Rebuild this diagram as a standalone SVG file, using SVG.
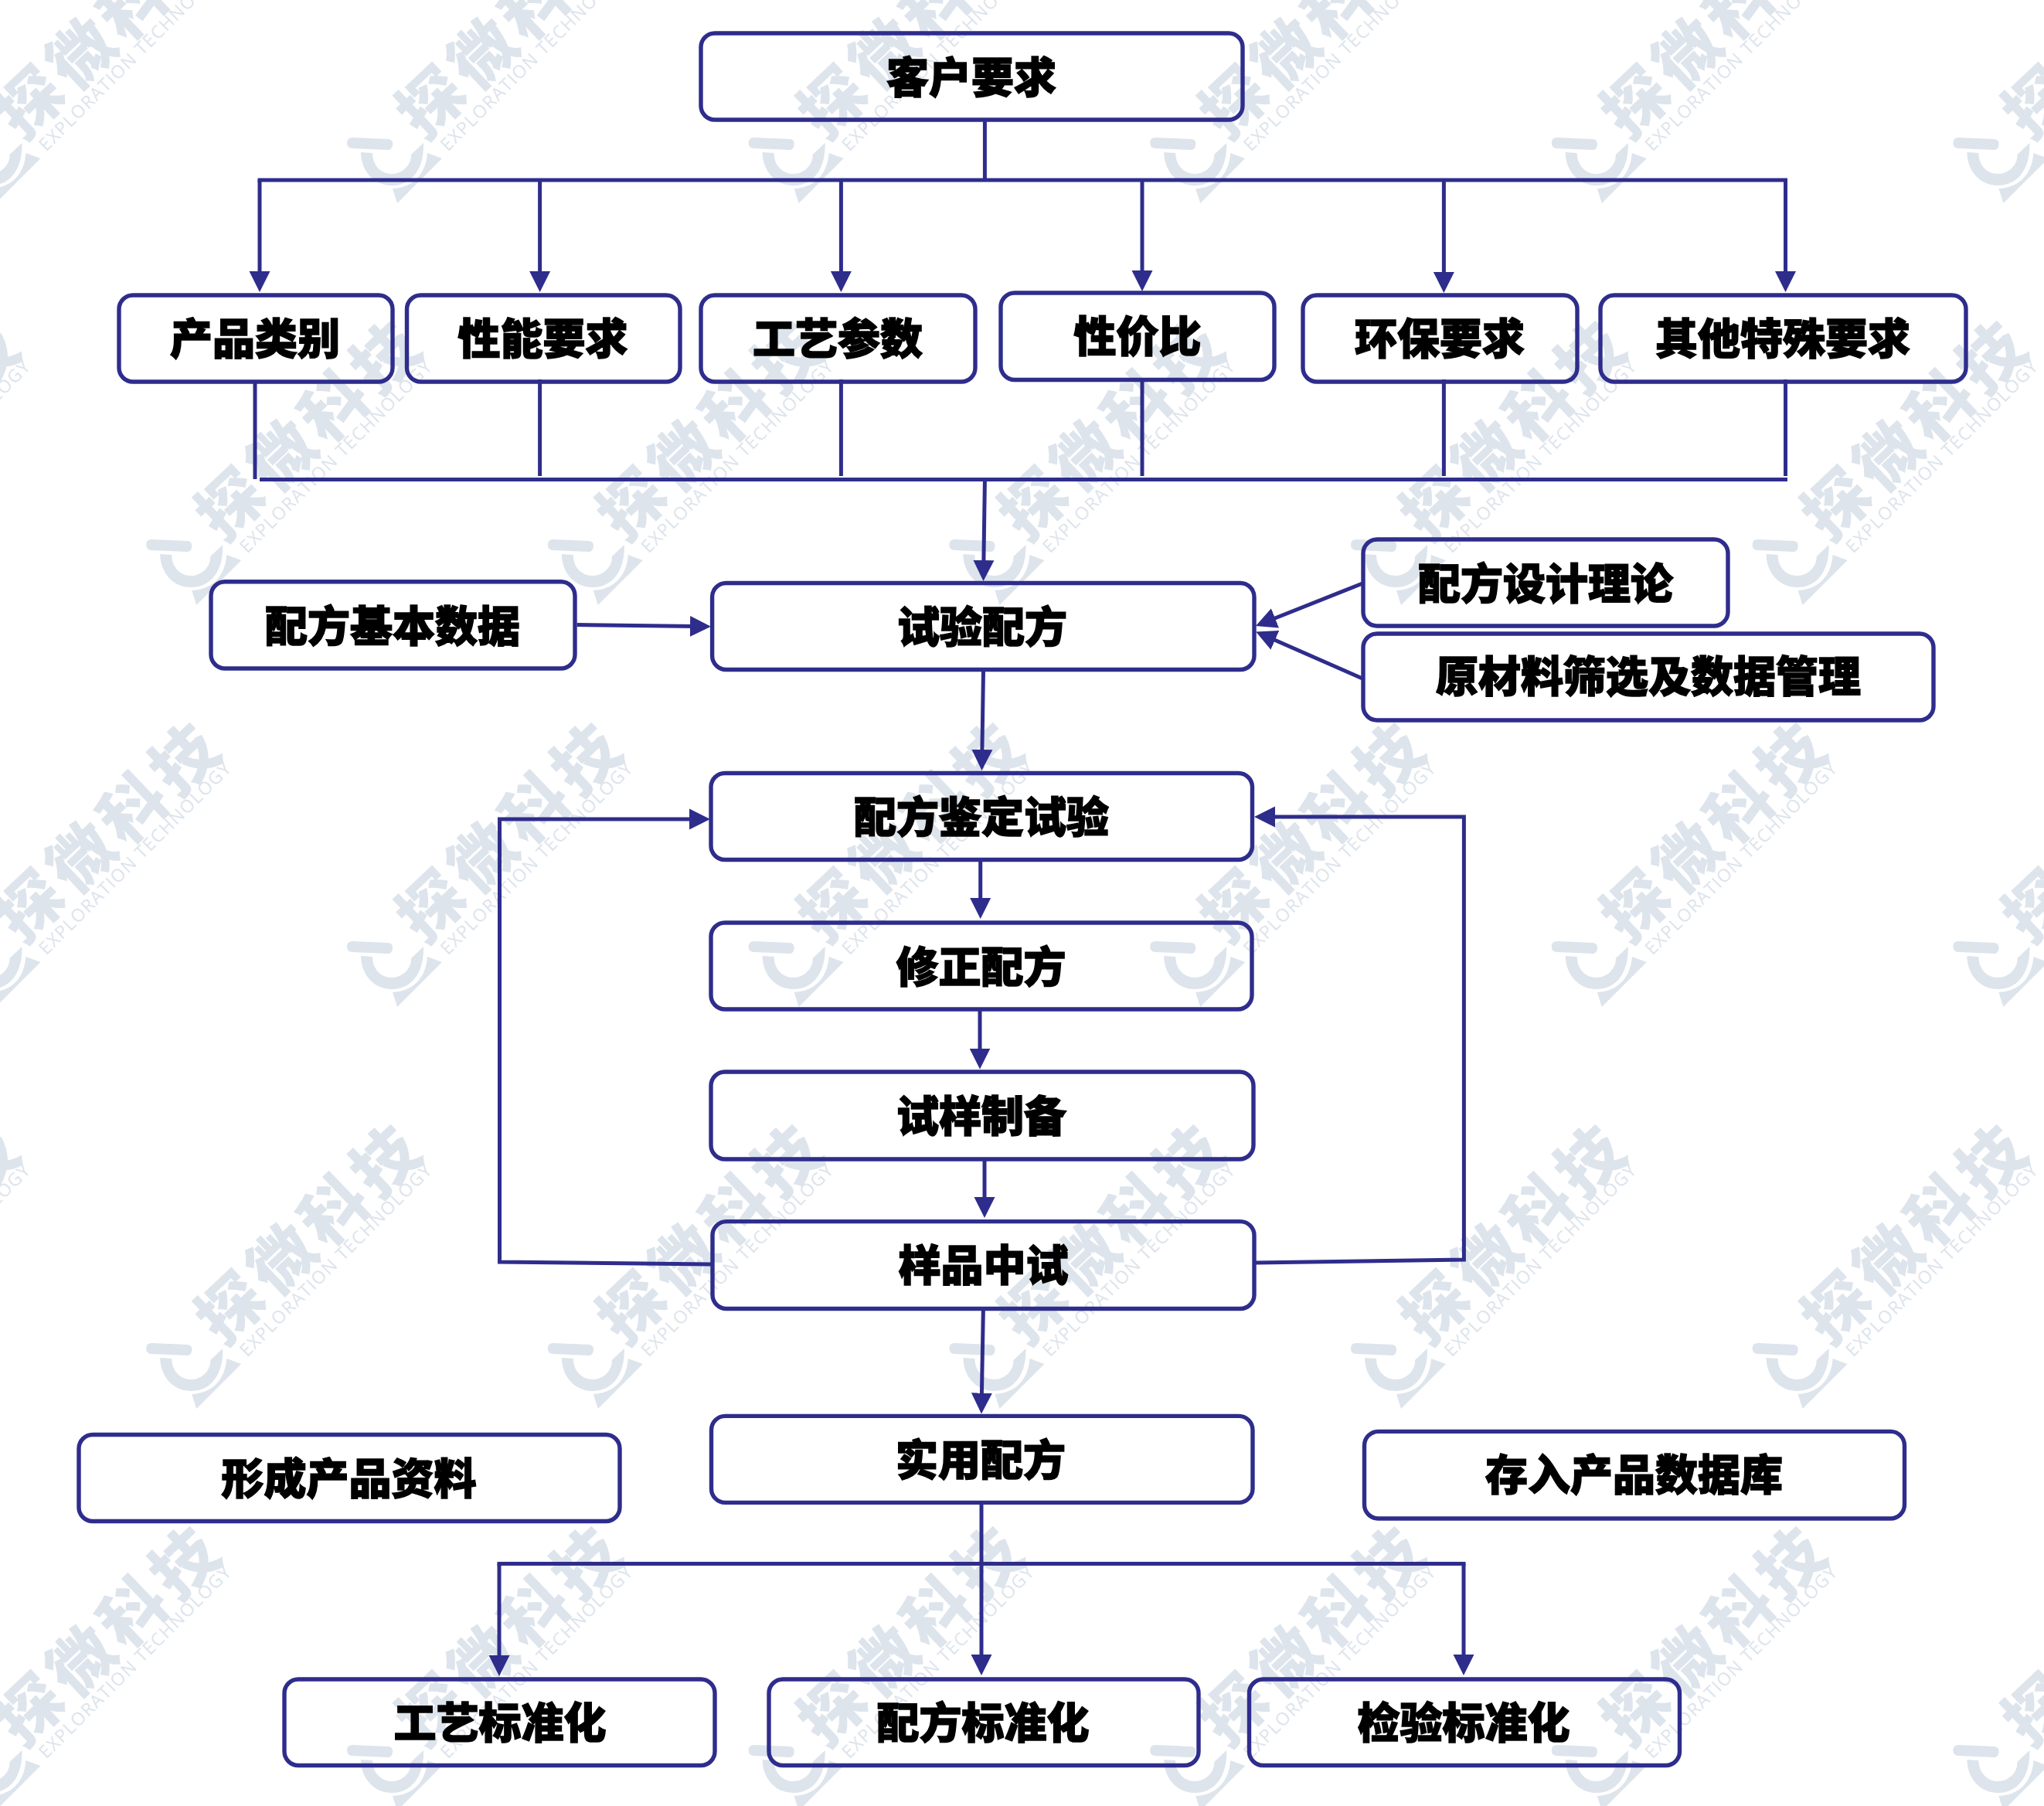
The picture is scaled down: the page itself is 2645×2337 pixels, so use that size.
<svg xmlns="http://www.w3.org/2000/svg" xmlns:xlink="http://www.w3.org/1999/xlink" width="2645" height="2337" viewBox="0 0 2645 2337">
<style>
.box{fill:none;stroke:#2e2d8c;stroke-width:5.4}
.lbl{font-family:"Noto Sans CJK SC","Noto Sans CJK JP",sans-serif;font-weight:900;font-size:55px;fill:#000;text-anchor:middle;stroke:#000;stroke-width:1.5}
.con{fill:none;stroke:#2e2d8c;stroke-width:5;stroke-linejoin:miter}
.arr{marker-end:url(#ah)}
.wm{fill:#dde4ec}
.wmt{font-family:"Noto Sans CJK SC","Noto Sans CJK JP",sans-serif;font-weight:900;font-size:84px;letter-spacing:8px;text-anchor:middle}
.wme{font-family:"Open Sans","Noto Sans",sans-serif;font-weight:400;font-size:23px;text-anchor:middle}
</style>
<defs>
<marker id="ah" markerUnits="userSpaceOnUse" markerWidth="28" markerHeight="28" viewBox="0 0 28 28" refX="7" refY="14" orient="auto"><path d="M0,0.5 L27,14 L0,27.500 Z" fill="#2e2d8c"/></marker>
<g id="wm" class="wm">
<text class="wmt" transform="translate(662,1076) rotate(-43.500)" y="29">探微科技</text>
<text class="wme" transform="translate(694,1111) rotate(-45)" y="8" textLength="340" lengthAdjust="spacing">EXPLORATION TECHNOLOGY</text>
<path d="M456,1218 L503,1220 Q509,1221 508,1228 Q507,1234 502,1234 L455,1232 Q449,1231 449,1225 Q449,1218 456,1218 Z"/>
<path d="M467,1237 L482,1238 C482,1254 493,1265 507,1265 C522,1265 533,1252 532,1240 L548,1225 C549,1258 533,1280 507,1280 C483,1280 467,1260 467,1237 Z"/>
<path d="M553,1238 L572,1245 L514,1303 L508,1284 C532,1283 551,1268 553,1238 Z"/>
</g>
</defs>
<rect width="2645" height="2337" fill="#fff"/>
<g id="watermark">
<use href="#wm" x="-519.6" y="-1040"/><use href="#wm" x="0" y="-1040"/><use href="#wm" x="519.6" y="-1040"/><use href="#wm" x="1039.2" y="-1040"/><use href="#wm" x="1558.8" y="-1040"/><use href="#wm" x="2078.4" y="-1040"/>
<use href="#wm" x="-519.6" y="0"/><use href="#wm" x="0" y="0"/><use href="#wm" x="519.6" y="0"/><use href="#wm" x="1039.2" y="0"/><use href="#wm" x="1558.8" y="0"/><use href="#wm" x="2078.4" y="0"/>
<use href="#wm" x="-519.6" y="1040"/><use href="#wm" x="0" y="1040"/><use href="#wm" x="519.6" y="1040"/><use href="#wm" x="1039.2" y="1040"/><use href="#wm" x="1558.8" y="1040"/><use href="#wm" x="2078.4" y="1040"/>
<use href="#wm" x="-779.4" y="-520"/><use href="#wm" x="-259.8" y="-520"/><use href="#wm" x="259.8" y="-520"/><use href="#wm" x="779.4" y="-520"/><use href="#wm" x="1299" y="-520"/><use href="#wm" x="1818.6" y="-520"/>
<use href="#wm" x="-779.4" y="520"/><use href="#wm" x="-259.8" y="520"/><use href="#wm" x="259.8" y="520"/><use href="#wm" x="779.4" y="520"/><use href="#wm" x="1299" y="520"/><use href="#wm" x="1818.6" y="520"/>
</g>
<g id="connectors">
<path class="con" d="M1274.4,155 V233"/>
<path class="con" d="M333.5,233 H2313"/>
<path class="con arr" d="M336,233 V358"/>
<path class="con arr" d="M698.6,233 V358"/>
<path class="con arr" d="M1088.4,233 V358"/>
<path class="con arr" d="M1478,233 V357"/>
<path class="con arr" d="M1868.4,233 V359"/>
<path class="con arr" d="M2310.5,233 V358"/>
<path class="con" d="M330,496 V620"/>
<path class="con" d="M698.6,491 V616"/>
<path class="con" d="M1088.4,491 V616"/>
<path class="con" d="M1478,493 V616"/>
<path class="con" d="M1868.4,491 V616"/>
<path class="con" d="M2310.5,491 V616"/>
<path class="con" d="M336,620.5 H2313"/>
<path class="con arr" d="M1274.4,622 L1272.8,732"/>
<path class="con arr" d="M746.6,808.5 L900,810.5"/>
<path class="con arr" d="M1763,755 L1643.5,802.5"/>
<path class="con arr" d="M1763,878 L1643.5,825.5"/>
<path class="con arr" d="M1272.5,868 L1270.8,977"/>
<path class="con arr" d="M1268.7,1114 V1169"/>
<path class="con arr" d="M1268,1306 V1363.5"/>
<path class="con arr" d="M1274,1500 V1556"/>
<path class="con arr" d="M920,1636 L646.5,1633 V1060 H899"/>
<path class="con arr" d="M1624.5,1634 L1894.4,1630 V1057 H1643"/>
<path class="con arr" d="M1272.4,1693 L1270.3,1809.6"/>
<path class="con arr" d="M1270,1946 V2148"/>
<path class="con" d="M643.5,2023.5 H1896.5"/>
<path class="con arr" d="M646,2023.5 V2149"/>
<path class="con arr" d="M1894,2023.5 V2148"/>
</g>
<g id="n1"><rect class="box" x="907" y="43" width="701" height="112" rx="18"/><text class="lbl" x="1257" y="120">客户要求</text></g>
<g id="n2"><rect class="box" x="154" y="382" width="354" height="112" rx="18"/><text class="lbl" x="330" y="458">产品类别</text></g>
<g id="n3"><rect class="box" x="526.5" y="382" width="353.5" height="112" rx="18"/><text class="lbl" x="702.5" y="458">性能要求</text></g>
<g id="n4"><rect class="box" x="907" y="382" width="355" height="112" rx="18"/><text class="lbl" x="1084" y="458">工艺参数</text></g>
<g id="n5"><rect class="box" x="1295" y="379" width="354" height="112.5" rx="18"/><text class="lbl" x="1472" y="455">性价比</text></g>
<g id="n6"><rect class="box" x="1686" y="382" width="355" height="112" rx="18"/><text class="lbl" x="1863" y="458">环保要求</text></g>
<g id="n7"><rect class="box" x="2071" y="382" width="473" height="112" rx="18"/><text class="lbl" x="2307" y="458">其他特殊要求</text></g>
<g id="n8"><rect class="box" x="273" y="752.7" width="471" height="112.3" rx="18"/><text class="lbl" x="508" y="830">配方基本数据</text></g>
<g id="n9"><rect class="box" x="921.6" y="754.5" width="701.4" height="112" rx="18"/><text class="lbl" x="1271" y="831">试验配方</text></g>
<g id="n10"><rect class="box" x="1764" y="698" width="472" height="112" rx="18"/><text class="lbl" x="2000" y="774.5">配方设计理论</text></g>
<g id="n11"><rect class="box" x="1764" y="820" width="738" height="112" rx="18"/><text class="lbl" x="2133" y="895">原材料筛选及数据管理</text></g>
<g id="n12"><rect class="box" x="920" y="1000.5" width="700.5" height="112" rx="18"/><text class="lbl" x="1270" y="1076.5">配方鉴定试验</text></g>
<g id="n13"><rect class="box" x="920" y="1194" width="700" height="112" rx="18"/><text class="lbl" x="1269.5" y="1270.5">修正配方</text></g>
<g id="n14"><rect class="box" x="920" y="1387" width="702" height="113" rx="18"/><text class="lbl" x="1270" y="1463.5">试样制备</text></g>
<g id="n15"><rect class="box" x="922" y="1580.6" width="701" height="112.9" rx="18"/><text class="lbl" x="1272.5" y="1657">样品中试</text></g>
<g id="n16"><rect class="box" x="102" y="1856.5" width="700" height="112" rx="18"/><text class="lbl" x="451.5" y="1933">形成产品资料</text></g>
<g id="n17"><rect class="box" x="920.5" y="1832.4" width="700.5" height="112" rx="18"/><text class="lbl" x="1269" y="1909">实用配方</text></g>
<g id="n18"><rect class="box" x="1765.5" y="1852.4" width="699" height="112.6" rx="18"/><text class="lbl" x="2114.5" y="1928">存入产品数据库</text></g>
<g id="n19"><rect class="box" x="368" y="2173" width="557" height="111.5" rx="18"/><text class="lbl" x="647" y="2249">工艺标准化</text></g>
<g id="n20"><rect class="box" x="995" y="2173" width="556" height="111.5" rx="18"/><text class="lbl" x="1272" y="2249">配方标准化</text></g>
<g id="n21"><rect class="box" x="1616.5" y="2173" width="557" height="111.5" rx="18"/><text class="lbl" x="1894" y="2249">检验标准化</text></g>
</svg>
